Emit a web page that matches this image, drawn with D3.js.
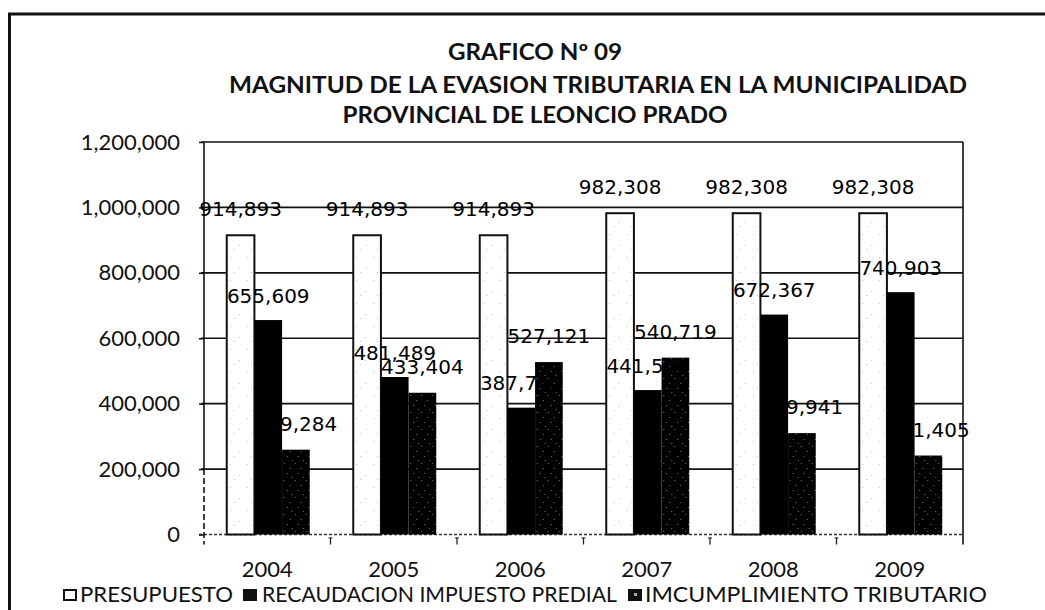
<!DOCTYPE html>
<html>
<head>
<meta charset="utf-8">
<script src="https://cdn.jsdelivr.net/npm/d3@7"></script>
<style>
  html, body { margin: 0; padding: 0; background: #fff; }
  svg { display: block; }
</style>
</head>
<body>
<svg id="chart" width="1045" height="610"></svg>
<script>
// ---------- data ----------
const years = ["2004", "2005", "2006", "2007", "2008", "2009"];
const presupuesto = [914893, 914893, 914893, 982308, 982308, 982308];
const recaudacion = [655609, 481489, 387772, 441589, 672367, 740903];
const incumplimiento = [259284, 433404, 527121, 540719, 309941, 241405];
const seriesNames = ["PRESUPUESTO", "RECAUDACION IMPUESTO PREDIAL", "IMCUMPLIMIENTO TRIBUTARIO"];
const yTickValues = [0, 200000, 400000, 600000, 800000, 1000000, 1200000];
const titleLines = ["GRAFICO  Nº 09", "MAGNITUD DE LA EVASION TRIBUTARIA EN LA MUNICIPALIDAD", "PROVINCIAL DE LEONCIO PRADO"];

// ---------- layout ----------
const svg = d3.select("#chart");
const plot = { left: 204, right: 963, top: 142, bottom: 534.5 };

const seriesData = [presupuesto, recaudacion, incumplimiento];
const keys = [0, 1, 2];
const rows = years.map((yr, i) => ({ year: yr, values: seriesData.map(s => s[i]) }));

const x0 = d3.scaleBand().domain(years).range([plot.left, plot.right]).paddingInner(0).paddingOuter(0);
const groupW = 83;
const x1 = d3.scaleBand().domain(keys).range([0, groupW]);
const groupOffset = (x0.bandwidth() - groupW) / 2 + 1;
const y = d3.scaleLinear().domain([0, 1200000]).range([plot.bottom, plot.top]);

// ---------- patterns ----------
const defs = svg.append("defs");
const pW = defs.append("pattern").attr("id", "speckW").attr("patternUnits", "userSpaceOnUse")
  .attr("width", 17).attr("height", 23);
pW.append("rect").attr("width", 17).attr("height", 23).attr("fill", "#fff");
[[3, 4], [12, 15], [7, 19]].forEach(d =>
  pW.append("rect").attr("x", d[0]).attr("y", d[1]).attr("width", 1).attr("height", 1).attr("fill", "#bbb"));
const pD = defs.append("pattern").attr("id", "speckD").attr("patternUnits", "userSpaceOnUse")
  .attr("width", 11).attr("height", 17);
pD.append("rect").attr("width", 11).attr("height", 17).attr("fill", "#000");
[[2, 4], [8, 9], [5, 14], [10, 1]].forEach(d =>
  pD.append("rect").attr("x", d[0]).attr("y", d[1]).attr("width", 1).attr("height", 1).attr("fill", "#777"));

// ---------- outer frame ----------
svg.append("path").attr("d", "M9.5,610 L9.5,14 L1045,14")
  .attr("fill", "none").attr("stroke", "#111").attr("stroke-width", 3);

// ---------- title ----------
const titleSpecs = [
  { cx: 535, y: 60, len: 174 },
  { cx: 598, y: 93, len: 738 },
  { cx: 535, y: 123, len: 385 }
];
svg.append("g").selectAll("text").data(titleLines).join("text")
  .attr("x", (d, i) => titleSpecs[i].cx)
  .attr("y", (d, i) => titleSpecs[i].y)
  .attr("text-anchor", "middle")
  .attr("textLength", (d, i) => titleSpecs[i].len)
  .attr("lengthAdjust", "spacingAndGlyphs")
  .style("font-family", "Lato, 'Open Sans', sans-serif")
  .style("font-weight", "bold")
  .style("font-size", "22px")
  .style("fill", "#111")
  .text(d => d);

// ---------- gridlines ----------
svg.append("g").selectAll("line").data(yTickValues.filter(v => v > 0)).join("line")
  .attr("x1", plot.left - 3).attr("x2", plot.right)
  .attr("y1", d => y(d)).attr("y2", d => y(d))
  .attr("stroke", "#111").attr("stroke-width", 1.6);

// right border of plot
svg.append("line").attr("x1", plot.right).attr("x2", plot.right)
  .attr("y1", plot.top).attr("y2", plot.bottom + 10)
  .attr("stroke", "#111").attr("stroke-width", 1.6);

// zero line (dotted)
svg.append("line").attr("x1", plot.left - 5).attr("x2", plot.right)
  .attr("y1", plot.bottom).attr("y2", plot.bottom)
  .attr("stroke", "#333").attr("stroke-width", 1.3).attr("stroke-dasharray", "3,2");

// y-axis line
svg.append("line").attr("x1", plot.left).attr("x2", plot.left)
  .attr("y1", plot.top).attr("y2", y(200000))
  .attr("stroke", "#111").attr("stroke-width", 1.6);
svg.append("line").attr("x1", plot.left).attr("x2", plot.left)
  .attr("y1", y(200000)).attr("y2", plot.bottom + 10)
  .attr("stroke", "#111").attr("stroke-width", 1.6).attr("stroke-dasharray", "6,3");

// category boundary ticks
const boundaries = years.slice(1).map(yr => x0(yr));
const tk = svg.append("g").selectAll("g").data(boundaries).join("g");
tk.append("line").attr("x1", d => d).attr("x2", d => d)
  .attr("y1", plot.bottom + 3).attr("y2", plot.bottom + 10)
  .attr("stroke", "#222").attr("stroke-width", 1.3);
tk.append("line").attr("x1", d => d - 2).attr("x2", d => d + 2)
  .attr("y1", plot.bottom + 3.5).attr("y2", plot.bottom + 3.5)
  .attr("stroke", "#222").attr("stroke-width", 1);

// ---------- y axis labels ----------
const yAxis = d3.axisLeft(y).tickValues(yTickValues).tickFormat(d3.format(","))
  .tickSizeInner(5).tickSizeOuter(0).tickPadding(19);
const yg = svg.append("g").attr("transform", `translate(${plot.left},0)`).call(yAxis);
yg.select(".domain").remove();
yg.selectAll(".tick line").attr("stroke", "#111").attr("stroke-width", 1.5);
yg.selectAll(".tick text")
  .style("font-family", "Lato, 'Open Sans', sans-serif")
  .style("font-size", "22px").style("fill", "#111");

// ---------- x axis labels ----------
const xAxis = d3.axisBottom(x0).tickSize(0).tickPadding(0);
const xg = svg.append("g").attr("transform", `translate(0,${plot.bottom})`).call(xAxis);
xg.select(".domain").remove();
xg.selectAll(".tick text")
  .attr("y", 42.5).attr("dy", 0)
  .style("font-family", "Lato, 'Open Sans', sans-serif")
  .style("font-size", "22px").style("fill", "#111");

// ---------- bars ----------
const fills = ["url(#speckW)", "#000", "url(#speckD)"];
const groups = svg.append("g").selectAll("g").data(rows).join("g")
  .attr("transform", d => `translate(${x0(d.year) + groupOffset},0)`);
groups.selectAll("rect").data(d => d.values.map((v, k) => ({ k, v }))).join("rect")
  .attr("x", d => x1(d.k))
  .attr("width", x1.bandwidth())
  .attr("y", d => y(d.v))
  .attr("height", d => y(0) - y(d.v))
  .attr("fill", d => fills[d.k])
  .attr("stroke", d => d.k === 0 ? "#111" : "none")
  .attr("stroke-width", 2);

// ---------- data labels ----------
const fmt = d3.format(",");
const labelG = svg.append("g");
keys.forEach(k => {
  labelG.append("g").selectAll("text").data(rows).join("text")
    .attr("x", d => x0(d.year) + groupOffset + x1(k) + x1.bandwidth() / 2)
    .attr("y", d => y(d.values[k]) - (k === 1 ? 17.5 : 19))
    .attr("text-anchor", "middle")
    .style("font-family", "'DejaVu Sans', Verdana, sans-serif")
    .style("font-size", "20px")
    .style("fill", "#000")
    .text(d => fmt(d.values[k]));
});

// ---------- legend ----------
const legendSpecs = [
  { sx: 63, tx: 80, len: 153 },
  { sx: 243, tx: 262, len: 355 },
  { sx: 628, tx: 645, len: 342 }
];
const lg = svg.append("g").selectAll("g").data(seriesNames).join("g");
lg.append("rect")
  .attr("x", (d, i) => legendSpecs[i].sx + (i === 0 ? 1 : 0))
  .attr("y", (d, i) => i === 0 ? 590 : 589)
  .attr("width", (d, i) => i === 0 ? 12 : 14)
  .attr("height", (d, i) => i === 0 ? 10 : 12)
  .attr("fill", (d, i) => i === 0 ? "#fff" : "#111")
  .attr("stroke", (d, i) => i === 0 ? "#111" : "none")
  .attr("stroke-width", 2);
lg.filter((d, i) => i === 2).append("rect")
  .attr("x", 634).attr("y", 593).attr("width", 3).attr("height", 3).attr("fill", "#aaa");
lg.append("text")
  .attr("x", (d, i) => legendSpecs[i].tx)
  .attr("y", 602)
  .attr("textLength", (d, i) => legendSpecs[i].len)
  .attr("lengthAdjust", "spacingAndGlyphs")
  .style("font-family", "Lato, 'Open Sans', sans-serif")
  .style("font-size", "21px")
  .style("fill", "#111")
  .text(d => d);
</script>
</body>
</html>
